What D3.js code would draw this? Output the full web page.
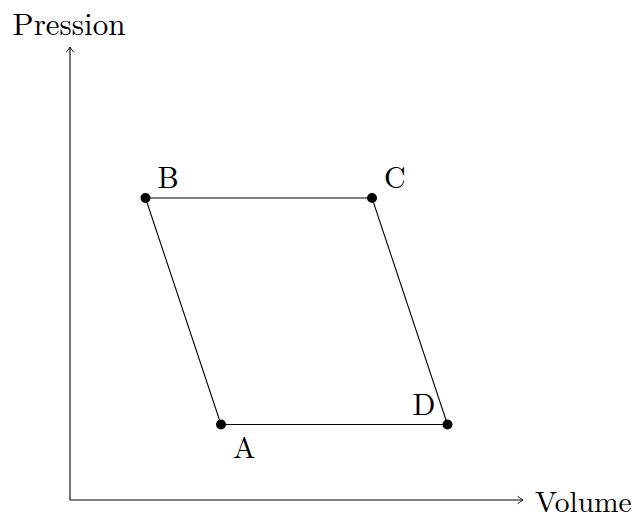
<!DOCTYPE html>
<html>
<head>
<meta charset="utf-8">
<script src="https://cdn.jsdelivr.net/npm/d3@7"></script>
<style>
  body { margin: 0; background: #fff; }
  text { font-family: "Latin Modern Roman", "Liberation Serif", "DejaVu Serif", serif; fill: #000; }
</style>
</head>
<body>
<div id="chart"></div>
<script>
var names = ["A", "B", "C", "D"]
var volumes = [2, 1, 4, 5]
var pressures = [1, 4, 4, 1]
// where each letter sits relative to its point
var labelPos = ["below right", "above right", "above right", "above left"]

var w = 638, h = 516

var x = d3.scaleLinear().domain([0, 6]).range([70, 523])
var y = d3.scaleLinear().domain([0, 6]).range([500, 47])

var svg = d3.select("#chart").append("svg")
  .attr("width", w)
  .attr("height", h)

// axes
svg.append("line")
  .attr("x1", x(0)).attr("y1", y(0))
  .attr("x2", x(6)).attr("y2", y(0))
  .attr("stroke", "#000").attr("stroke-width", 1.1)
svg.append("line")
  .attr("x1", x(0)).attr("y1", y(0))
  .attr("x2", x(0)).attr("y2", y(6))
  .attr("stroke", "#000").attr("stroke-width", 1.1)

// tikz style "to" arrow heads
function arrowHead(tx, ty, angle) {
  svg.append("path")
    .attr("d", "M-5,-3.5 Q-1.5,-0.8 0,0 Q-1.5,0.8 -5,3.5")
    .attr("fill", "none")
    .attr("stroke", "#000")
    .attr("stroke-width", 0.9)
    .attr("stroke-linecap", "round")
    .attr("transform", "translate(" + tx + "," + ty + ") rotate(" + angle + ")")
}
arrowHead(x(6), y(0), 0)
arrowHead(x(0), y(6), -90)

svg.append("text")
  .attr("x", x(0) - 1)
  .attr("y", y(6) - 12)
  .attr("text-anchor", "middle")
  .attr("font-size", 31)
  .text("Pression")

svg.append("text")
  .attr("x", x(6) + 12)
  .attr("y", y(0))
  .attr("dominant-baseline", "central")
  .attr("font-size", 29.5)
  .text("Volume")

// cycle A -> B -> C -> D -> A
var pts = names.map(function(n, i) {
  return { name: n, v: volumes[i], p: pressures[i], pos: labelPos[i] }
})

svg.append("path")
  .datum(pts)
  .attr("d", d3.line()
    .x(function(d) { return x(d.v) })
    .y(function(d) { return y(d.p) })
    .curve(d3.curveLinearClosed))
  .attr("fill", "none")
  .attr("stroke", "#000")
  .attr("stroke-width", 1.1)

svg.selectAll(".pt")
  .data(pts)
  .enter()
  .append("circle")
  .attr("class", "pt")
  .attr("cx", function(d) { return x(d.v) })
  .attr("cy", function(d) { return y(d.p) })
  .attr("r", 5)
  .attr("fill", "#000")

svg.selectAll(".lbl")
  .data(pts)
  .enter()
  .append("text")
  .attr("class", "lbl")
  .attr("font-size", 30)
  .attr("text-anchor", function(d) { return d.pos.indexOf("left") >= 0 ? "end" : "start" })
  .attr("x", function(d) {
    return d.pos.indexOf("left") >= 0 ? x(d.v) - 12 : x(d.v) + 12
  })
  .attr("y", function(d) {
    return d.pos.indexOf("above") >= 0 ? y(d.p) - 10 : y(d.p) + 33
  })
  .text(function(d) { return d.name })
</script>
</body>
</html>
